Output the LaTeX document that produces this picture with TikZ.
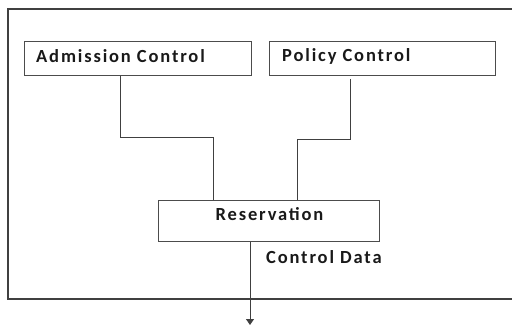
\documentclass[tikz,border=0pt]{standalone}
\usepackage{fontspec}
\setmainfont{Carlito}[LetterSpace=10]
\usetikzlibrary{arrows.meta}
\begin{document}
\begin{tikzpicture}[x=1pt,y=-1pt,
  lbl/.style={font=\fontsize{18.5}{20}\selectfont\bfseries, inner sep=0pt, text=black!90},
  boxnode/.style={draw=black!70, line width=1pt, inner sep=0pt},
  wire/.style={draw=black!75, line width=1pt}]
\useasboundingbox (0,0) rectangle (512,327);
\draw[wire, line width=1.1pt] (513,9) -- (8,9) -- (8,299) -- (513,299);
\node[boxnode, minimum width=227pt, minimum height=34pt] (adm) at (137.5,58) {};
\node[lbl, anchor=west] (admt) at (36,56.5) {Admission Control};
\node[boxnode, minimum width=226pt, minimum height=34pt] (pol) at (382,58) {};
\node[lbl, anchor=west] (polt) at (282,56.5) {Policy Control};
\node[boxnode, minimum width=221pt, minimum height=41pt] (res) at (268.5,220.5) {};
\node[lbl] (rest) at (269.5,214.5) {Reservation};
\node[lbl, anchor=west] (cd) at (266,257) {Control Data};
\coordinate (pstart) at (350,79);
\draw[wire] (adm.south -| 120,0) |- (213,137) -- (213,0 |- res.north);
\draw[wire] (pstart) |- (297,139) -- (297,0 |- res.north);
\coordinate (aend) at (250,325);
\draw[wire, -{Triangle[length=6pt,width=8pt]}] (250,0 |- res.south) -- (aend);
\end{tikzpicture}
\end{document}
